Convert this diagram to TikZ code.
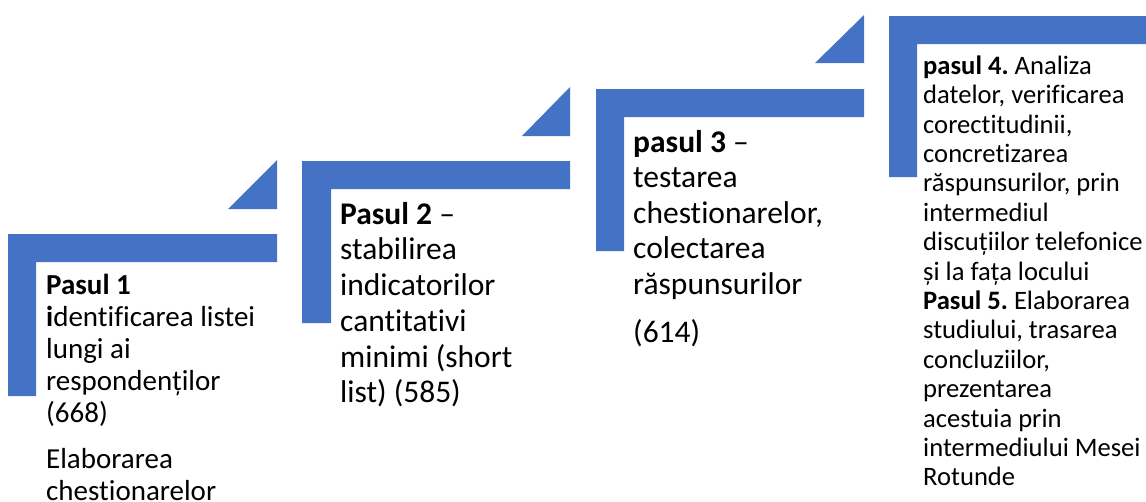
\documentclass[tikz,border=0pt]{standalone}
\usepackage{fontspec}
\setmainfont{Carlito}[Ligatures={NoCommon}]
\definecolor{stepblue}{HTML}{4472C4}
\tikzset{
  stepshape/.style={fill=stepblue, draw=none},
  steptext/.style={anchor=north west, inner sep=0pt, align=left, text=black},
}
\newcommand{\firstline}{\rule{0pt}{30pt}}
\frenchspacing
\begin{document}
\begin{tikzpicture}[x=1pt,y=-1pt]
\useasboundingbox (0,0) rectangle (1146,501);
% step 1
\fill[stepshape] (8,234) -- (277,234) -- (277,262) -- (36,262) -- (36,396) -- (8,396) -- cycle;
\fill[stepshape] (228,209) -- (277,209) -- (277,160) -- cycle;
% step 2
\fill[stepshape] (302,161) -- (570,161) -- (570,189) -- (331,189) -- (331,323) -- (302,323) -- cycle;
\fill[stepshape] (522,136) -- (570,136) -- (570,87) -- cycle;
% step 3
\fill[stepshape] (596,89) -- (864,89) -- (864,117) -- (624,117) -- (624,251) -- (596,251) -- cycle;
\fill[stepshape] (815,63) -- (864,63) -- (864,15) -- cycle;
% step 4
\fill[stepshape] (889,16) -- (1146,16) -- (1146,44) -- (917,44) -- (917,177) -- (889,177) -- cycle;
% texts
\node[steptext, font=\fontsize{29}{32}\selectfont] (t1) at (46,264)
  {\firstline\textbf{Pasul 1}\\ \textbf{i}dentificarea listei\\ lungi ai\\ respondenților\\ (668)\\[14pt] Elaborarea\\ chestionarelor};
\node[steptext, font=\fontsize{31.5}{35.7}\selectfont] (t2) at (340,194)
  {\firstline\textbf{Pasul 2} –\\ stabilirea\\ indicatorilor\\ cantitativi\\ minimi (short\\ list) (585)};
\node[steptext, font=\fontsize{31.5}{35.5}\selectfont] (t3) at (633,122)
  {\firstline\textbf{pasul 3} –\\ testarea\\ chestionarelor,\\ colectarea\\ răspunsurilor\\[12.5pt] (614)};
\node[steptext, font=\fontsize{26.6}{29.4}\selectfont] (t4) at (923,44)
  {\firstline\textbf{pasul 4.} Analiza\\ datelor, verificarea\\ corectitudinii,\\ concretizarea\\ răspunsurilor, prin\\ intermediul\\ discuțiilor telefonice\\ și la fața locului\\ \textbf{Pasul 5.} Elaborarea\\ studiului, trasarea\\ concluziilor,\\ prezentarea\\ acestuia prin\\ intermediului Mesei\\ Rotunde};
\end{tikzpicture}
\end{document}
